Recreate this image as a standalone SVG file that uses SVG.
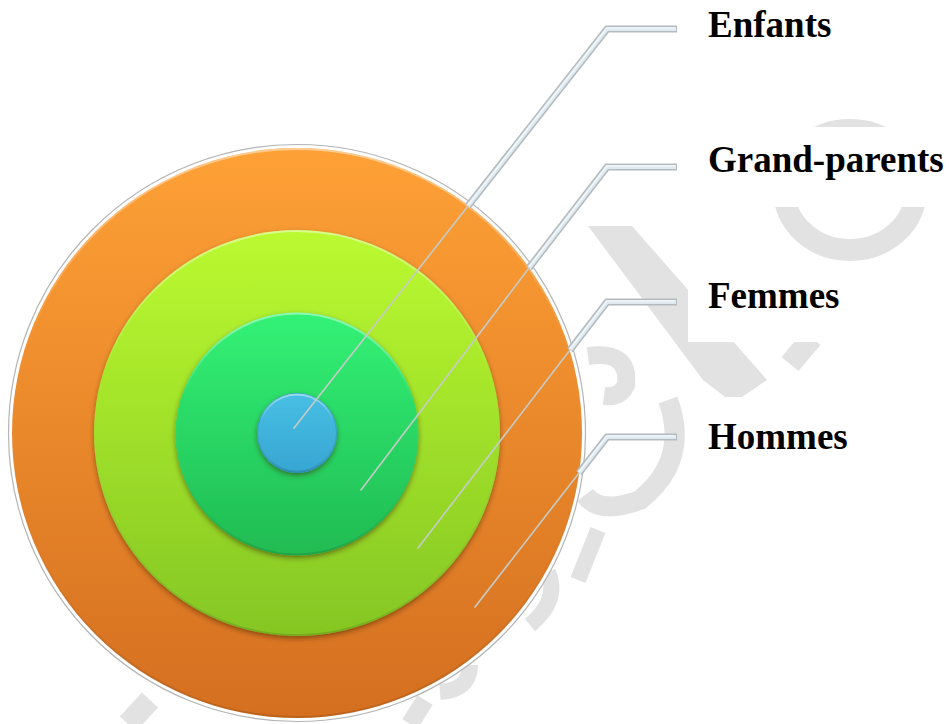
<svg xmlns="http://www.w3.org/2000/svg" width="949" height="724" viewBox="0 0 949 724">
  <defs>
    <linearGradient id="gOrange" x1="0" y1="0" x2="0" y2="1">
      <stop offset="0" stop-color="#fea136"/>
      <stop offset="1" stop-color="#d46f20"/>
    </linearGradient>
    <linearGradient id="gLime" x1="0" y1="0" x2="0" y2="1">
      <stop offset="0" stop-color="#bbfa30"/>
      <stop offset="1" stop-color="#85c624"/>
    </linearGradient>
    <linearGradient id="gGreen" x1="0" y1="0" x2="0" y2="1">
      <stop offset="0" stop-color="#33f276"/>
      <stop offset="1" stop-color="#20bb52"/>
    </linearGradient>
    <linearGradient id="gBlue" x1="0" y1="0" x2="0" y2="1">
      <stop offset="0" stop-color="#48bfe4"/>
      <stop offset="1" stop-color="#37a6d2"/>
    </linearGradient>
    <linearGradient id="gHi" x1="0" y1="0" x2="0" y2="1">
      <stop offset="0" stop-color="#ffffff" stop-opacity="0.45"/>
      <stop offset="0.35" stop-color="#ffffff" stop-opacity="0"/>
      <stop offset="1" stop-color="#000000" stop-opacity="0.12"/>
    </linearGradient>
    <filter id="shadow" x="-10%" y="-10%" width="120%" height="125%">
      <feDropShadow dx="0" dy="2.5" stdDeviation="2.5" flood-color="#3a1a00" flood-opacity="0.5"/>
    </filter>
  </defs>
  <style>
    .wm { fill: #e2e2e2; stroke: none; }
    .wms { fill: none; stroke: #e2e2e2; }
    .box { fill: #ffffff; }
    .label { font-family: "Liberation Serif", "Times New Roman", serif; font-weight: bold; font-size: 37px; fill: #000000; }
    .hi { fill: none; stroke: url(#gHi); stroke-width: 2; }
    .leadOut { fill: none; stroke: #b5babe; stroke-width: 7; stroke-linejoin: miter; stroke-linecap: butt; }
    .leadIn { fill: none; stroke: #deeaf1; stroke-width: 4; stroke-linejoin: miter; stroke-linecap: butt; }
    .leadHi { fill: none; stroke: #f7fbfd; stroke-width: 1.2; }
    .thin { fill: none; stroke: #c5cbc8; stroke-width: 1.6; stroke-linecap: round; }
  </style>

  <!-- faint watermark -->
  <g id="watermark">
    <ellipse class="wms" cx="850" cy="190" rx="66" ry="60" stroke-width="22"/>
    <polygon class="wm" points="588,226 632,226 767,380 733,403 703,380"/>
    <path class="wms" stroke-width="22" d="M812,338 L790,364"/>
    <path class="wms" stroke-width="18" d="M588,356 Q630,350 626,385 Q620,398 604,396"/>
    <path class="wms" stroke-width="20" d="M668,400 Q690,460 640,500 Q600,515 585,495"/>
    <path class="wms" stroke-width="16" d="M598,530 L578,580"/>
    <path class="wms" stroke-width="16" d="M548,572 Q560,600 530,625"/>
    <path class="wms" stroke-width="16" d="M470,665 Q470,690 440,692"/>
    <path class="wms" stroke-width="18" d="M425,700 L410,724"/>
    <path class="wms" stroke-width="22" d="M150,700 L128,724"/>
  </g>

  <g id="node-hommes">
    <circle cx="297" cy="433" r="288.5" fill="#ffffff" stroke="#b4b4b4" stroke-width="1.2"/>
    <circle cx="297" cy="433" r="285" fill="url(#gOrange)"/>
    <circle cx="297" cy="433" r="284" class="hi"/>
    <rect class="box" x="688" y="397" width="261" height="80"/>
    <text class="label" x="708" y="449">Hommes</text>
  </g>

  <g id="node-femmes">
    <circle cx="297" cy="433" r="203" fill="url(#gLime)" filter="url(#shadow)"/>
    <circle cx="297" cy="433" r="202" class="hi"/>
    <rect class="box" x="688" y="262" width="261" height="80"/>
    <text class="label" x="708" y="308">Femmes</text>
  </g>

  <g id="node-grand-parents">
    <circle cx="297" cy="434" r="121.5" fill="url(#gGreen)" filter="url(#shadow)"/>
    <circle cx="297" cy="434" r="120.5" class="hi"/>
    <rect class="box" x="688" y="127" width="261" height="80"/>
    <text class="label" x="708" y="172">Grand-parents</text>
  </g>

  <g id="node-enfants">
    <circle cx="297" cy="433" r="40" fill="url(#gBlue)" filter="url(#shadow)"/>
    <circle cx="297" cy="433" r="39.5" fill="none" stroke="#2b8fb8" stroke-width="1" stroke-opacity="0.6"/>
    <circle cx="297" cy="433" r="38.5" class="hi"/>
    <rect class="box" x="688" y="-8" width="261" height="80"/>
    <text class="label" x="708" y="37">Enfants</text>
  </g>

  <g id="connectors">
    <polyline class="leadOut" points="677,29 607,29 468,206"/>
    <polyline class="leadIn" points="676,29 607,29 468,206"/>
    <polyline class="leadHi" points="675,28 607,28 468,205"/>
    <line class="thin" x1="468" y1="206" x2="294" y2="428"/>
    <polyline class="leadOut" points="677,167 607,167 529,268"/>
    <polyline class="leadIn" points="676,167 607,167 529,268"/>
    <polyline class="leadHi" points="675,166 607,166 529,267"/>
    <line class="thin" x1="529" y1="268" x2="361" y2="490"/>
    <polyline class="leadOut" points="677,302 607,302 570,350"/>
    <polyline class="leadIn" points="676,302 607,302 570,350"/>
    <polyline class="leadHi" points="675,301 607,301 570,349"/>
    <line class="thin" x1="570" y1="350" x2="418" y2="548"/>
    <polyline class="leadOut" points="677,437 607,437 579,473"/>
    <polyline class="leadIn" points="676,437 607,437 579,473"/>
    <polyline class="leadHi" points="675,436 607,436 579,472"/>
    <line class="thin" x1="579" y1="473" x2="475" y2="607"/>
  </g>
</svg>
